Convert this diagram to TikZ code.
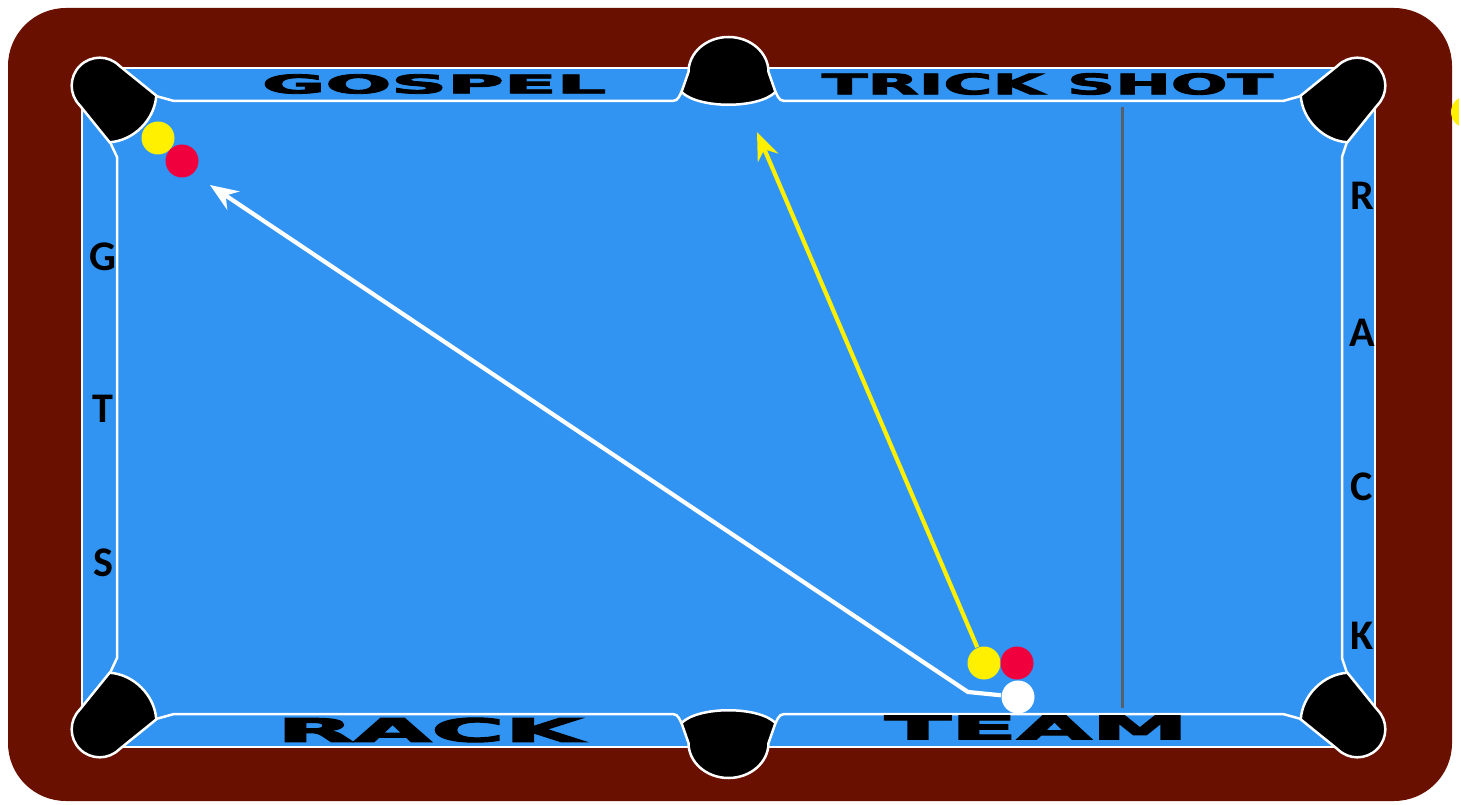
\documentclass[tikz,border=0pt]{standalone}
\usepackage{fontspec}
\usepackage{graphicx}
\setmainfont{DejaVu Sans}
\newfontfamily\railfont[FakeBold=3]{DejaVu Sans}
\newfontfamily\sidefont{Carlito}
\usetikzlibrary{arrows.meta}
\definecolor{felt}{HTML}{3194F2}
\definecolor{rail}{HTML}{691001}
\definecolor{ballY}{HTML}{FFF000}
\definecolor{ballR}{HTML}{F0003C}
\definecolor{aim}{HTML}{55606C}
\tikzset{
  ball/.style={circle, minimum size=3.3mm, inner sep=0pt},
  yball/.style={ball, fill=ballY},
  rball/.style={ball, fill=ballR},
  cball/.style={ball, fill=white},
  pocket/.style={fill=black, draw=white, line width=0.25mm},
  side/.style={font=\sidefont\bfseries\fontsize{12}{13}\selectfont, inner sep=0pt},
  word/.style={inner sep=0pt},
  shot/.style={line width=0.42mm, -{Stealth[length=2.8mm,width=2.2mm]}},
  cpocket/.pic={\path[pocket] (25,28) arc[start angle=90,end angle=270,radius=28]
      -- (72,-33) .. controls (88,-15) and (88,15) .. (72,33) -- cycle;},
  mpocket/.pic={\path[pocket] (-47,-24) -- (-40,-4)
      arc[start angle=180,end angle=0,x radius=40,y radius=35]
      -- (47,-24) .. controls (30,-41) and (-30,-41) .. cycle;},
}
\newcommand\railword[3]{\resizebox{#1}{#2}{\railfont\bfseries #3}}

\begin{document}
\begin{tikzpicture}[x=0.1mm, y=0.1mm]
\useasboundingbox (0,0) rectangle (1459,-805);
\fill[white] (0,0) rectangle (1459,-805);

% table frame
\fill[rail, rounded corners=5.8mm] (8,-8) rectangle (1452,-801);
\fill[ballY] (1467,-112) circle[radius=16];
\filldraw[fill=felt, draw=white, line width=0.25mm] (82,-68) rectangle (1375,-747);

% cushion noses
\draw[white, line width=0.25mm] (156,-96) -- (174,-101) -- (668,-101) .. controls (677,-101) .. (681.5,-92)
  -- (775.5,-92) .. controls (780,-101) .. (789,-101) -- (1283,-101) -- (1301,-96)
  -- (1347,-142) -- (1342,-157) -- (1342,-658) -- (1347,-673)
  -- (1301,-719) -- (1283,-714) -- (789,-714) .. controls (780,-714) .. (775.5,-723)
  -- (681.5,-723) .. controls (677,-714) .. (668,-714) -- (174,-714) -- (156,-719)
  -- (110,-673) -- (117,-658) -- (117,-157) -- (110,-142) -- cycle;

% pockets
\pic[rotate=-45] at (82,-68) {cpocket};
\pic[rotate=-135] at (1375,-68) {cpocket};
\pic[rotate=45] at (82,-747) {cpocket};
\pic[rotate=135] at (1375,-747) {cpocket};
\pic at (728.5,-68) {mpocket};
\pic[rotate=180] at (728.5,-747) {mpocket};

% rail lettering
\node[word] (gospel) at (434,-84) {\railword{34.4mm}{1.9mm}{GOSPEL}};
\node[word] (trick) at (1047.5,-84) {\railword{45.1mm}{2.1mm}{TRICK SHOT}};
\node[word] (rack) at (429.5,-730) {\railword{30.5mm}{2.4mm}{RACK}};
\node[word] (team) at (1036.5,-727.5) {\railword{30.3mm}{2.4mm}{TEAM}};

\node[side] (sG) at (103,-257) {G};
\node[side] (sT) at (103,-409) {T};
\node[side] (sS) at (103,-563) {S};
\node[side] (sR) at (1362,-196) {R};
\node[side] (sA) at (1362,-333) {A};
\node[side] (sC) at (1362,-487) {C};
\node[side] (sK) at (1362,-636) {K};

\draw[aim, line width=0.3mm] (1122,-107) -- (1122,-708);

% balls
\node[yball] (y1) at (158,-138) {};
\node[rball] (r1) at (182,-161) {};
\node[yball] (y2) at (984,-663) {};
\node[rball] (r2) at (1017,-663) {};
\node[cball] (cue) at (1018,-697) {};

% shots
\coordinate (kink) at (968,-692);
\coordinate (tipW) at (210,-185);
\coordinate (tipY) at (757,-132);
\draw[shot, white] (cue) -- (kink) -- (tipW);
\draw[shot, ballY] (y2) -- (tipY);
\end{tikzpicture}
\end{document}
